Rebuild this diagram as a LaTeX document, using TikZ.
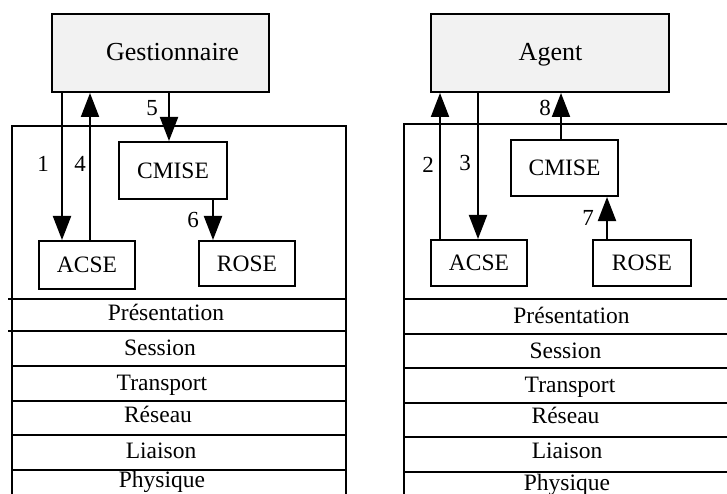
\documentclass[tikz,border=0pt]{standalone}
\usepackage{fontspec}
\setmainfont{Liberation Serif}
\usetikzlibrary{arrows.meta}

\tikzset{
  line/.style={line width=2pt},
  topbox/.style={draw, line width=2pt, fill=black!5, inner sep=0pt},
  entity/.style={draw, line width=2pt, inner sep=0pt,
    font=\fontsize{23.5}{28}\selectfont},
  layertext/.style={anchor=base, inner sep=0pt, font=\fontsize{23.5}{28}\selectfont},
  toptext/.style={anchor=base, inner sep=0pt, font=\fontsize{26}{30}\selectfont},
  num/.style={inner sep=0pt, font=\fontsize{23}{28}\selectfont},
  arr/.style={line width=2pt, -{Triangle[width=18pt,length=24pt]}},
}

\begin{document}
\begin{tikzpicture}[x=1pt, y=-1pt]
\useasboundingbox (0,0) rectangle (727,494);

% ---------- Manager side ----------
\node[topbox, minimum width=217pt, minimum height=78pt] (gest) at (160.5,53) {};
\node[toptext] (gestT) at (172.5,61) {Gestionnaire};

% protocol stack frame (open at the bottom)
\draw[line] (12,494) |- (346,126) -- (346,494);

\node[entity, minimum width=108pt, minimum height=57pt] (cmiseL) at (173,170.5) {CMISE};
\node[entity, minimum width=96pt, minimum height=48pt] (acseL) at (87,265) {ACSE};
\node[entity, minimum width=96pt, minimum height=45pt] (roseL) at (247,263.5) {ROSE};

% layer separators
\draw[line] (8,299) -- (346,299);
\draw[line] (8,331) -- (346,331);
\draw[line] (12,366) -- (346,366);
\draw[line] (12,401) -- (346,401);
\draw[line] (12,435) -- (346,435);
\draw[line] (12,470) -- (346,470);

\node[layertext] (presL) at (166,320) {Présentation};
\node[layertext] (sessL) at (160,355) {Session};
\node[layertext] (tranL) at (162,390) {Transport};
\node[layertext] (reseL) at (158,422) {Réseau};
\node[layertext] (liaiL) at (161,458) {Liaison};
\node[layertext] (physL) at (162,487) {Physique};

% exchanges
\coordinate (x1) at (62,0);
\coordinate (x4) at (90,0);
\coordinate (x5) at (169,0);
\coordinate (x6) at (213,0);
\draw[arr] (gest.south -| x1) -- (acseL.north -| x1);
\draw[arr] (acseL.north -| x4) -- (gest.south -| x4);
\draw[arr] (gest.south -| x5) -- (cmiseL.north -| x5);
\draw[arr] (cmiseL.south -| x6) -- (roseL.north -| x6);

\node[num] (n1) at (43,164) {1};
\node[num] (n4) at (80,164) {4};
\node[num] (n5) at (152,108) {5};
\node[num] (n6) at (193,220) {6};

% ---------- Agent side ----------
\node[topbox, minimum width=238pt, minimum height=78pt] (agent) at (550,53) {};
\node[toptext] (agentT) at (550.5,61) {Agent};

\draw[line] (404,494) |- (730,124);

\node[entity, minimum width=107pt, minimum height=56pt] (cmiseR) at (564.5,168) {CMISE};
\node[entity, minimum width=96pt, minimum height=46pt] (acseR) at (479,263) {ACSE};
\node[entity, minimum width=98pt, minimum height=46pt] (roseR) at (642,263) {ROSE};

\draw[line] (404,299) -- (730,299);
\draw[line] (404,334) -- (730,334);
\draw[line] (404,368) -- (730,368);
\draw[line] (404,403) -- (730,403);
\draw[line] (404,437) -- (730,437);
\draw[line] (404,472) -- (730,472);

\node[layertext] (presR) at (571.5,323) {Présentation};
\node[layertext] (sessR) at (565.5,358) {Session};
\node[layertext] (tranR) at (570,392) {Transport};
\node[layertext] (reseR) at (565.5,423) {Réseau};
\node[layertext] (liaiR) at (567,458) {Liaison};
\node[layertext] (physR) at (567,490) {Physique};

\coordinate (x2) at (440,0);
\coordinate (x3) at (478,0);
\coordinate (x8) at (561,0);
\coordinate (x7) at (607,0);
\draw[arr] (acseR.north -| x2) -- (agent.south -| x2);
\draw[arr] (agent.south -| x3) -- (acseR.north -| x3);
\draw[arr] (cmiseR.north -| x8) -- (agent.south -| x8);
\draw[arr] (roseR.north -| x7) -- (cmiseR.south -| x7);

\node[num] (n2) at (428,165) {2};
\node[num] (n3) at (465,163) {3};
\node[num] (n8) at (545,108) {8};
\node[num] (n7) at (588,218) {7};
\end{tikzpicture}
\end{document}
